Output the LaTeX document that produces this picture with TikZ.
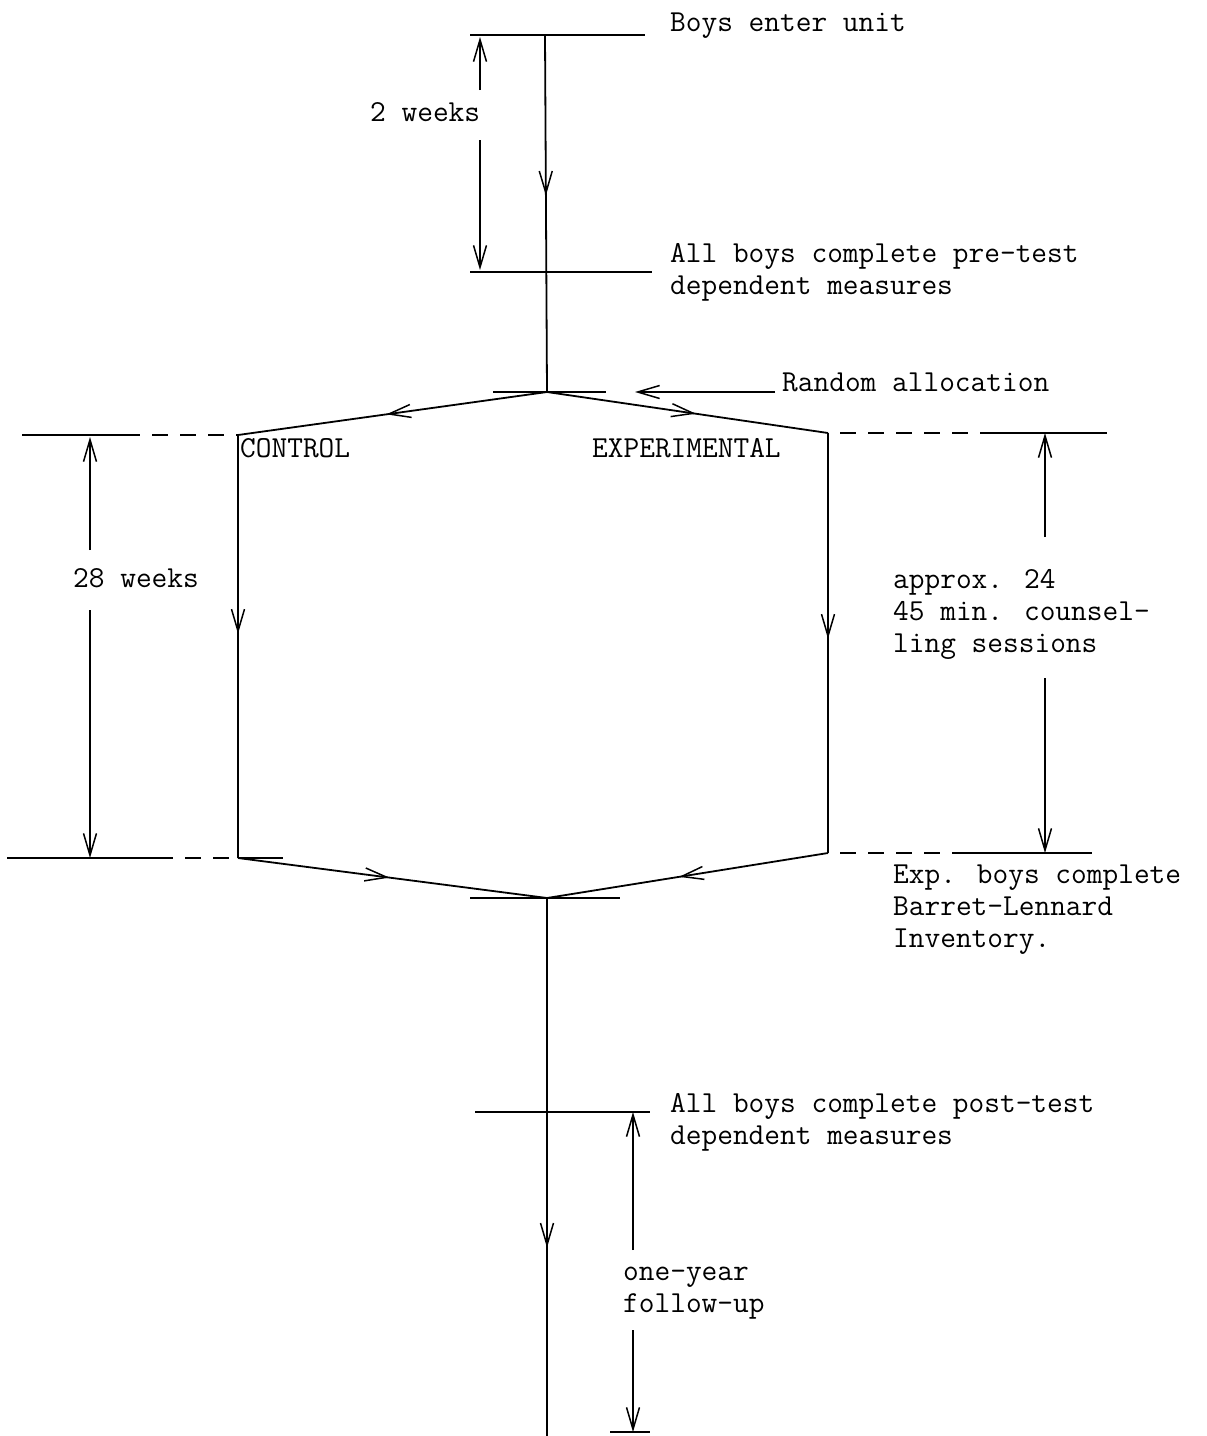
\documentclass[tikz,border=0pt]{standalone}
\usepackage{fontspec}
\usetikzlibrary{arrows.meta,decorations.markings}
\tikzset{
  ln/.style={line width=1.8pt},
  barb/.tip={Straight Barb[length=22pt,width=13pt,line width=1.5pt]},
  midarrow/.style={postaction={decorate},decoration={markings,mark=at position #1 with {\arrow{barb}}}},
  dimarrow/.style={line width=1.4pt,-{barb}},
  dashln/.style={line width=1.8pt,dash pattern=on 16pt off 12pt},
  lbl/.style={font=\ttfamily\fontsize{30.5}{32}\selectfont,anchor=base west,inner sep=0pt}
}
\begin{document}
\begin{tikzpicture}[x=1pt,y=-1pt]
\useasboundingbox (0,0) rectangle (1207,1436);
% coordinates
\coordinate (topL) at (470,35);   \coordinate (topR) at (645,35);
\coordinate (preL) at (470,272);  \coordinate (preR) at (652,272);
\coordinate (mainTop) at (545,35);
\coordinate (split) at (547,392);
\coordinate (splitL) at (493,392); \coordinate (splitR) at (606,392);
\coordinate (randStart) at (775,392); \coordinate (randEnd) at (635,392);
\coordinate (ctlTop) at (238,435); \coordinate (ctlBot) at (238,858);
\coordinate (expTop) at (828,433); \coordinate (expBot) at (828,853);
\coordinate (merge) at (547,898);
\coordinate (mergeL) at (470,898); \coordinate (mergeR) at (620,898);
\coordinate (mainBot) at (547,1436);
\coordinate (postL) at (475,1112); \coordinate (postR) at (650,1112);
\coordinate (endL) at (610,1432); \coordinate (endR) at (650,1432);
% left reference lines
\coordinate (lt1) at (22,435); \coordinate (lt2) at (140,435); \coordinate (lt3) at (152,435);
\coordinate (lb1) at (7,858); \coordinate (lb2) at (157,858); \coordinate (lb3) at (283,858);
% right reference lines
\coordinate (rt2) at (980,433); \coordinate (rt3) at (1107,433);
\coordinate (rb2) at (967,853); \coordinate (rb3) at (1092,853);
% dimension arrow ends
\coordinate (d1a) at (480,90);  \coordinate (d1t) at (480,37);
\coordinate (d1b) at (480,140); \coordinate (d1e) at (480,270);
\coordinate (d2a) at (90,550);  \coordinate (d2t) at (90,437);
\coordinate (d2b) at (90,610);  \coordinate (d2e) at (90,858);
\coordinate (d3a) at (1045,537); \coordinate (d3t) at (1045,433);
\coordinate (d3b) at (1045,678); \coordinate (d3e) at (1045,853);
\coordinate (d4a) at (633,1250); \coordinate (d4t) at (633,1112);
\coordinate (d4b) at (633,1330); \coordinate (d4e) at (633,1432);

% horizontal lines
\draw[ln] (topL) -- (topR);
\draw[ln] (preL) -- (preR);
\draw[ln] (splitL) -- (splitR);
\draw[ln] (mergeL) -- (mergeR);
\draw[ln] (postL) -- (postR);
\draw[ln] (endL) -- (endR);
\draw[ln] (lt1) -- (lt2);
\draw[dashln] (lt3) -- (ctlTop);
\draw[ln] (lb1) -- (lb2);
\draw[dashln] (lb2) -- (ctlBot);
\draw[ln] (ctlBot) -- (lb3);
\draw[dashln] ([xshift=12pt]expTop) -- (rt2);
\draw[ln] (rt2) -- (rt3);
\draw[dashln] ([xshift=12pt]expBot) -- (rb2);
\draw[ln] (rb2) -- (rb3);

% flow lines
\draw[ln,midarrow=0.45] (mainTop) -- (split);
\draw[ln,midarrow=0.52] (split) -- (ctlTop);
\draw[ln,midarrow=0.53] (split) -- (expTop);
\draw[ln,midarrow=0.47] (ctlTop) -- (ctlBot);
\draw[ln,midarrow=0.49] (expTop) -- (expBot);
\draw[ln,midarrow=0.49] (ctlBot) -- (merge);
\draw[ln,midarrow=0.53] (expBot) -- (merge);
\draw[ln,midarrow=0.65] (merge) -- (mainBot);
\draw[ln,-{barb}] (randStart) -- (randEnd);

% dimension arrows
\draw[dimarrow] (d1a) -- (d1t);
\draw[dimarrow] (d1b) -- (d1e);
\draw[dimarrow] (d2a) -- (d2t);
\draw[dimarrow] (d2b) -- (d2e);
\draw[dimarrow] (d3a) -- (d3t);
\draw[dimarrow] (d3b) -- (d3e);
\draw[dimarrow] (d4a) -- (d4t);
\draw[dimarrow] (d4b) -- (d4e);

% labels
\node[lbl] (enter) at (670,31) {Boys enter unit};
\node[lbl] (pre1) at (670,262) {All boys complete pre-test};
\node[lbl] (pre2) at (670,294) {dependent measures};
\node[lbl] (rand) at (782,391) {Random allocation};
\node[lbl] (ctl) at (240,457) {CONTROL};
\node[lbl] (exp) at (592,457) {EXPERIMENTAL};
\node[lbl] (w2) at (370,121) {2 weeks};
\node[lbl] (w28) at (73,587) {28 weeks};
\node[lbl] (ap1) at (893,588) {approx. 24};
\node[lbl] (ap2) at (893,620) {45 min. counsel-};
\node[lbl] (ap3) at (893,652) {ling sessions};
\node[lbl] (bl1) at (893,883) {Exp. boys complete};
\node[lbl] (bl2) at (893,915) {Barret-Lennard};
\node[lbl] (bl3) at (893,947) {Inventory.};
\node[lbl] (post1) at (670,1112) {All boys complete post-test};
\node[lbl] (post2) at (670,1144) {dependent measures};
\node[lbl] (fu1) at (623,1280) {one-year};
\node[lbl] (fu2) at (623,1312) {follow-up};
\end{tikzpicture}
\end{document}
